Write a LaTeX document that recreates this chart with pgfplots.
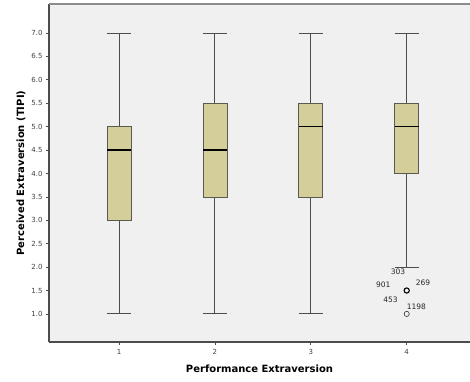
\documentclass[border=0pt]{standalone}
\usepackage{fontspec}
\setmainfont{DejaVu Sans}
\usepackage{pgfplots}
\pgfplotsset{compat=1.18}
\usepgfplotslibrary{statistics}
\definecolor{boxfill}{RGB}{212,206,154}
\definecolor{bg}{RGB}{240,240,240}
\definecolor{edge}{RGB}{90,90,80}
\begin{document}
\begin{tikzpicture}
\useasboundingbox (-49pt,-39pt) rectangle (421pt,342pt);
\begin{axis}[
  at={(0pt,0pt)}, anchor=south west,
  scale only axis, width=421pt, height=338pt,
  xmin=0.27, xmax=4.66, ymin=0.40, ymax=7.62,
  axis background/.style={fill=bg},
  axis x line*=bottom, axis y line*=left,
  axis line style={draw=black!70, line width=1.3pt, -},
  xtick={1,2,3,4},
  ytick={1,1.5,...,7.01},
  yticklabel style={/pgf/number format/.cd, fixed, fixed zerofill, precision=1},
  /pgf/number format/assume math mode=true,
  tick label style={font=\fontsize{7}{8}\selectfont, text=black!75},
  xticklabel style={yshift=-1pt},
  tick align=outside, major tick length=3pt,
  tick style={black!70, line width=0.7pt},
  xlabel={\bfseries Performance Extraversion},
  ylabel={\bfseries Perceived Extraversion (TIPI)},
  label style={font=\fontsize{10}{12}\selectfont},
  xlabel style={yshift=-3pt},
  ylabel style={yshift=-1pt},
  boxplot/draw direction=y,
  boxplot/box extend=0.25,
  boxplot/whisker extend=0.25,
  clip=false,
]
\draw[black!45, line width=1.2pt] (rel axis cs:0,1) -- (rel axis cs:1.05,1);
\pgfplotsset{every boxplot/.style={solid, draw=edge, fill=boxfill, line width=0.7pt},
  boxplot/every median/.style={draw=black, line width=1.3pt},
  boxplot/every whisker/.style={draw=black!70, line width=0.9pt}}
\addplot+[mark=none, boxplot prepared={draw position=1, lower whisker=1, lower quartile=3, median=4.5, upper quartile=5, upper whisker=7}] coordinates {};
\addplot+[mark=none, boxplot prepared={draw position=2, lower whisker=1, lower quartile=3.5, median=4.5, upper quartile=5.5, upper whisker=7}] coordinates {};
\addplot+[mark=none, boxplot prepared={draw position=3, lower whisker=1, lower quartile=3.5, median=5, upper quartile=5.5, upper whisker=7}] coordinates {};
\addplot+[mark=none, boxplot prepared={draw position=4, lower whisker=2, lower quartile=4, median=5, upper quartile=5.5, upper whisker=7}] coordinates {};
\addplot[only marks, mark=o, mark size=2.6pt, mark options={line width=1.1pt, black}] coordinates {(4,1.5)};
\addplot[only marks, mark=o, mark size=2.6pt, mark options={line width=0.6pt, black!80}] coordinates {(4,1.0)};
\begin{scope}[every node/.style={font=\fontsize{7.5}{8}\selectfont, text=black!85, inner sep=0pt}]
\node at (axis cs:3.91,1.89) {303};
\node at (axis cs:3.755,1.63) {901};
\node at (axis cs:4.17,1.66) {269};
\node at (axis cs:3.83,1.30) {453};
\node at (axis cs:4.10,1.15) {1198};
\end{scope}
\end{axis}
\end{tikzpicture}
\end{document}
